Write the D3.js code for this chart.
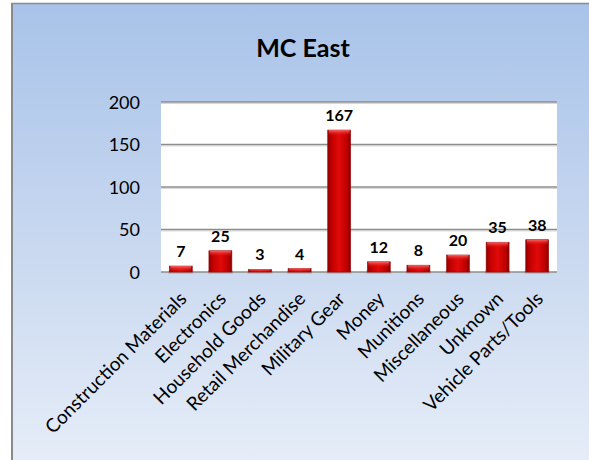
<!DOCTYPE html>
<html><head><meta charset="utf-8">
<script src="https://cdn.jsdelivr.net/npm/d3@7"></script>
<style>
html,body{margin:0;padding:0;background:#fff;}
svg{display:block;}
text{font-family:Lato,"Open Sans",sans-serif;}
</style></head>
<body>
<script>
const categories = ["Construction Materials","Electronics","Household Goods","Retail Merchandise","Military Gear","Money","Munitions","Miscellaneous","Unknown","Vehicle Parts/Tools"];
const values = [7,25,3,4,167,12,8,20,35,38];
const yTicks = [0,50,100,150,200];
const title = "MC East";

const W = 589, H = 460;
const svg = d3.select("body").append("svg").attr("width", W).attr("height", H);
const defs = svg.append("defs");

const bg = defs.append("linearGradient").attr("id","bg").attr("x1",0).attr("y1",0).attr("x2",0).attr("y2",1);
bg.append("stop").attr("offset","0%").attr("stop-color","#a8c3e9");
bg.append("stop").attr("offset","55%").attr("stop-color","#cad9f0");
bg.append("stop").attr("offset","100%").attr("stop-color","#e6edf8");

const barG = defs.append("linearGradient").attr("id","barG").attr("x1",0).attr("y1",0).attr("x2",1).attr("y2",0);
barG.append("stop").attr("offset","0%").attr("stop-color","#8e0000");
barG.append("stop").attr("offset","18%").attr("stop-color","#c40000");
barG.append("stop").attr("offset","50%").attr("stop-color","#e00a0a");
barG.append("stop").attr("offset","82%").attr("stop-color","#c00000");
barG.append("stop").attr("offset","100%").attr("stop-color","#860000");

const capG = defs.append("linearGradient").attr("id","capG").attr("x1",0).attr("y1",0).attr("x2",0).attr("y2",1);
capG.append("stop").attr("offset","0%").attr("stop-color","#ff7070").attr("stop-opacity",0.9);
capG.append("stop").attr("offset","100%").attr("stop-color","#e00000").attr("stop-opacity",0);

// frame
svg.append("rect").attr("x",12).attr("y",3.5).attr("width",W).attr("height",H).attr("fill","url(#bg)");
svg.append("line").attr("x1",12).attr("x2",12).attr("y1",3).attr("y2",H).attr("stroke","#8a8a8a").attr("stroke-width",2);
svg.append("line").attr("x1",11).attr("x2",W).attr("y1",3.5).attr("y2",3.5).attr("stroke","#8a8a8a").attr("stroke-width",1.5);

const m = {left:161, right:557, top:102, bottom:272};
const x = d3.scaleBand().domain(categories).range([m.left, m.right]).paddingInner(0.42).paddingOuter(0.21);
const y = d3.scaleLinear().domain([0,200]).range([m.bottom, m.top]);

svg.append("rect").attr("x",m.left).attr("y",m.top).attr("width",m.right-m.left).attr("height",m.bottom-m.top).attr("fill","#fff");

// gridlines
const grid = svg.append("g");
grid.selectAll("line.s").data(yTicks).join("line")
  .attr("x1",m.left).attr("x2",m.right).attr("y1",d=>y(d)+1.5).attr("y2",d=>y(d)+1.5)
  .attr("stroke","#d8d8d8").attr("stroke-width",1);
grid.selectAll("line.g").data(yTicks).join("line")
  .attr("x1",m.left).attr("x2",m.right).attr("y1",d=>y(d)).attr("y2",d=>y(d))
  .attr("stroke","#8c8c8c").attr("stroke-width",1.6);

// y axis labels
const yAxis = d3.axisLeft(y).tickValues(yTicks).tickSize(0).tickPadding(21);
const ya = svg.append("g").attr("transform",`translate(${m.left},0)`).call(yAxis);
ya.select(".domain").remove();
ya.selectAll("text").attr("font-size","18px").attr("fill","#000").attr("font-family","Lato").attr("dy","0.36em");

// bars
const bars = svg.append("g");
const data = categories.map((c,i)=>({c, v:values[i]}));
bars.selectAll("rect.sh").data(data).join("rect")
  .attr("x",d=>x(d.c)-1).attr("y",y(0)-1.5).attr("width",x.bandwidth()+2).attr("height",3)
  .attr("fill","#b07070").attr("opacity",0.6);
bars.selectAll("rect.b").data(data).join("rect")
  .attr("x",d=>x(d.c)).attr("y",d=>y(d.v)).attr("width",x.bandwidth()).attr("height",d=>y(0)-y(d.v))
  .attr("fill","url(#barG)").attr("stroke","#9a1010").attr("stroke-width",0.6);
bars.selectAll("rect.cap").data(data).join("rect")
  .attr("x",d=>x(d.c)+1).attr("y",d=>y(d.v)).attr("width",x.bandwidth()-2).attr("height",d=>Math.min(6,(y(0)-y(d.v))))
  .attr("fill","url(#capG)");

// value labels
svg.append("g").selectAll("text").data(data).join("text")
  .attr("x",d=>x(d.c)+x.bandwidth()/2).attr("y",d=>y(d.v)-9)
  .attr("text-anchor","middle").attr("font-size","16px").attr("font-weight","bold").attr("fill","#000")
  .text(d=>d.v);

// category labels
svg.append("g").selectAll("text").data(categories).join("text")
  .attr("transform",d=>`translate(${x(d)+x.bandwidth()/2+7},${y(0)+28}) rotate(-45)`)
  .attr("text-anchor","end").attr("font-size","19px").attr("fill","#000")
  .text(d=>d);

// title
svg.append("text").attr("x",303).attr("y",57).attr("text-anchor","middle")
  .attr("font-size","25px").attr("font-weight","bold").attr("fill","#000").text(title);
</script>
</body></html>
